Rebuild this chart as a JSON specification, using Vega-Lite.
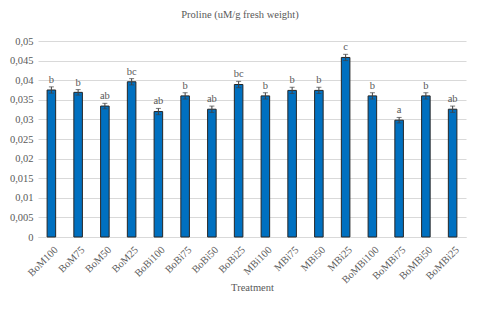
{
  "$schema": "https://vega.github.io/schema/vega-lite/v6.json",
  "autosize": {"type": "none"},
  "width": 428,
  "height": 196,
  "padding": {"left": 38, "top": 41, "right": 14, "bottom": 75},
  "background": "white",
  "config": {
    "locale": {"number": {"decimal": ",", "thousands": ".", "grouping": [3], "currency": ["", " €"]}},
    "view": {"stroke": null},
    "font": "Liberation Serif",
    "axisY": {
      "labelFont": "Liberation Serif",
      "labelFontSize": 10.5,
      "labelColor": "#595959",
      "labelPadding": 5,
      "labelOverlap": false,
      "ticks": false,
      "domain": false,
      "gridColor": "#d9d9d9",
      "gridWidth": 1
    }
  },
  "title": {
    "text": "Proline (uM/g fresh weight)",
    "font": "Liberation Serif",
    "fontSize": 10.5,
    "fontWeight": "normal",
    "color": "#595959",
    "anchor": "middle",
    "dx": -12,
    "offset": 16
  },
  "data": {
    "values": [
      {"treatment": "BoM100", "mean": 0.0375, "lo": 0.0367, "hi": 0.0383, "letter": "b"},
      {"treatment": "BoM75", "mean": 0.0369, "lo": 0.0362, "hi": 0.0376, "letter": "b"},
      {"treatment": "BoM50", "mean": 0.0334, "lo": 0.0327, "hi": 0.0341, "letter": "ab"},
      {"treatment": "BoM25", "mean": 0.0396, "lo": 0.0388, "hi": 0.0404, "letter": "bc"},
      {"treatment": "BoBi100", "mean": 0.032, "lo": 0.0312, "hi": 0.0328, "letter": "ab"},
      {"treatment": "BoBi75", "mean": 0.036, "lo": 0.0352, "hi": 0.0368, "letter": "b"},
      {"treatment": "BoBi50", "mean": 0.0326, "lo": 0.0318, "hi": 0.0334, "letter": "ab"},
      {"treatment": "BoBi25", "mean": 0.0389, "lo": 0.0381, "hi": 0.0397, "letter": "bc"},
      {"treatment": "MBi100", "mean": 0.036, "lo": 0.0352, "hi": 0.0368, "letter": "b"},
      {"treatment": "MBi75", "mean": 0.0374, "lo": 0.0366, "hi": 0.0382, "letter": "b"},
      {"treatment": "MBi50", "mean": 0.0374, "lo": 0.0366, "hi": 0.0382, "letter": "b"},
      {"treatment": "MBi25", "mean": 0.0458, "lo": 0.045, "hi": 0.0466, "letter": "c"},
      {"treatment": "BoMBi100", "mean": 0.036, "lo": 0.0352, "hi": 0.0368, "letter": "b"},
      {"treatment": "BoMBi75", "mean": 0.0298, "lo": 0.0291, "hi": 0.0305, "letter": "a"},
      {"treatment": "BoMBi50", "mean": 0.036, "lo": 0.0352, "hi": 0.0368, "letter": "b"},
      {"treatment": "BoMBi25", "mean": 0.0326, "lo": 0.0318, "hi": 0.0334, "letter": "ab"}
    ]
  },
  "encoding": {
    "x": {
      "field": "treatment",
      "type": "nominal",
      "sort": null,
      "scale": {"paddingInner": 0.68, "paddingOuter": 0.34},
      "axis": {
        "title": "Treatment",
        "titleFont": "Liberation Serif",
        "titleFontSize": 10.5,
        "titleFontWeight": "normal",
        "titleColor": "#595959",
        "titlePadding": -3,
        "labelAngle": -45,
        "labelAlign": "right",
        "labelBaseline": "middle",
        "labelFont": "Liberation Serif",
        "labelFontSize": 10.5,
        "labelColor": "#595959",
        "labelPadding": 11,
        "labelOffset": 5,
        "ticks": false,
        "domainColor": "#d9d9d9",
        "grid": false
      }
    }
  },
  "layer": [
    {
      "mark": {"type": "bar", "color": "#0070C0", "stroke": "#262626", "strokeWidth": 1},
      "encoding": {
        "y": {
          "field": "mean",
          "type": "quantitative",
          "scale": {"domain": [0, 0.05], "nice": false},
          "axis": {"title": null, "format": "~g", "values": [0, 0.005, 0.01, 0.015, 0.02, 0.025, 0.03, 0.035, 0.04, 0.045, 0.05]}
        }
      }
    },
    {
      "mark": {"type": "errorbar", "color": "#404040", "thickness": 1, "ticks": {"size": 5, "thickness": 1, "color": "#404040"}},
      "encoding": {
        "y": {"field": "lo", "type": "quantitative", "axis": {"title": null, "format": "~g", "values": [0, 0.005, 0.01, 0.015, 0.02, 0.025, 0.03, 0.035, 0.04, 0.045, 0.05]}},
        "y2": {"field": "hi"}
      }
    },
    {
      "mark": {"type": "text", "baseline": "bottom", "dy": -2, "font": "Liberation Serif", "fontSize": 10.5, "fill": "#595959"},
      "encoding": {
        "y": {"field": "hi", "type": "quantitative", "axis": {"title": null, "format": "~g", "values": [0, 0.005, 0.01, 0.015, 0.02, 0.025, 0.03, 0.035, 0.04, 0.045, 0.05]}},
        "text": {"field": "letter"}
      }
    }
  ]
}
